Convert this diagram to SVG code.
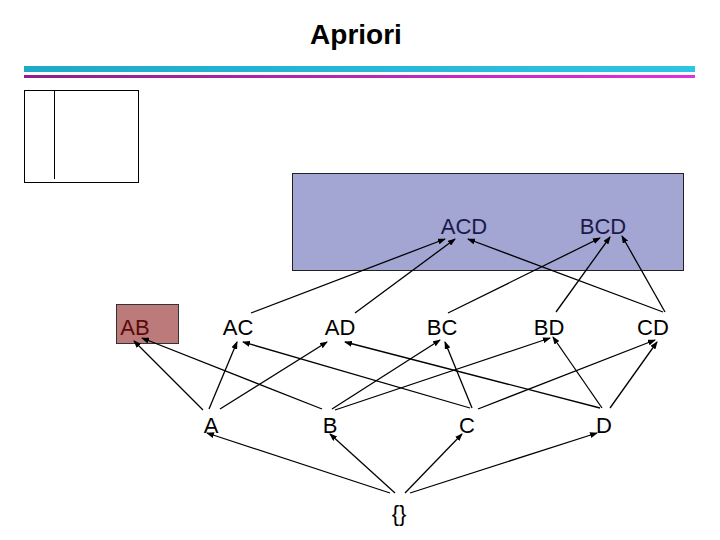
<svg xmlns="http://www.w3.org/2000/svg" width="720" height="540" viewBox="0 0 720 540">
<style>
text{font-family:"Liberation Sans",Arial,sans-serif;font-size:22px;text-anchor:middle}
.c line{stroke:#000;stroke-width:1.3;marker-end:url(#ah)}
</style>
<defs><marker id="ah" markerWidth="8" markerHeight="6" refX="7" refY="3" orient="auto" markerUnits="userSpaceOnUse"><path d="M0,0L8,3L0,6z" fill="#000"/></marker>
<linearGradient id="g1" x1="0" x2="1"><stop offset="0" stop-color="#1fa9c9"/><stop offset="1" stop-color="#2fc4e4"/></linearGradient>
<linearGradient id="g2" x1="0" x2="1"><stop offset="0" stop-color="#8e1e8e"/><stop offset="1" stop-color="#e030e0"/></linearGradient></defs>
<rect width="720" height="540" fill="#fff"/>
<text x="356" y="44" style="font-size:28px;font-weight:bold">Apriori</text>
<rect x="24" y="66" width="671" height="6" fill="url(#g1)"/>
<rect x="24" y="75" width="671" height="3" fill="url(#g2)"/>
<rect x="24.5" y="90.5" width="114" height="92" fill="none" stroke="#000"/>
<line x1="54.5" y1="90" x2="54.5" y2="179" stroke="#000"/>
<g id="box"><rect x="292.5" y="173.5" width="391" height="97" fill="#a3a5d3" stroke="#222"/></g>
<g id="ACD"><text x="464" y="234" fill="#1a1a4a">ACD</text></g>
<g id="BCD"><text x="603" y="234" fill="#1a1a4a">BCD</text></g>
<g id="AB"><rect x="116.5" y="304.5" width="62" height="39" fill="#bc7a7a" stroke="#333"/><text x="135" y="335" fill="#5a0a0a">AB</text></g>
<g id="AC"><text x="238" y="335">AC</text></g>
<g id="AD"><text x="340" y="335">AD</text></g>
<g id="BC"><text x="442" y="335">BC</text></g>
<g id="BD"><text x="549" y="335">BD</text></g>
<g id="CD"><text x="653" y="335">CD</text></g>
<g id="A"><text x="211" y="433">A</text></g>
<g id="B"><text x="330" y="433">B</text></g>
<g id="C"><text x="467" y="433">C</text></g>
<g id="D"><text x="604" y="433">D</text></g>
<g id="empty"><text x="399" y="521">{}</text></g>
<g class="c" id="connectors">
<line x1="251" y1="313" x2="445" y2="239"/>
<line x1="355" y1="313" x2="455" y2="239"/>
<line x1="448" y1="313" x2="600" y2="238"/>
<line x1="556" y1="312" x2="610" y2="237"/>
<line x1="663" y1="312" x2="468" y2="239"/>
<line x1="665" y1="312" x2="622" y2="236"/>
<line x1="203" y1="410" x2="134" y2="341"/>
<line x1="209" y1="409" x2="237" y2="342"/>
<line x1="220" y1="409" x2="327" y2="342"/>
<line x1="322" y1="409" x2="142" y2="338"/>
<line x1="332" y1="409" x2="440" y2="340"/>
<line x1="335" y1="410" x2="550" y2="338"/>
<line x1="470" y1="408" x2="243" y2="342"/>
<line x1="472" y1="408" x2="445" y2="342"/>
<line x1="478" y1="409" x2="655" y2="340"/>
<line x1="600" y1="408" x2="345" y2="342"/>
<line x1="602" y1="408" x2="553" y2="337"/>
<line x1="610" y1="408" x2="657" y2="342"/>
<line x1="390" y1="493" x2="207" y2="433"/>
<line x1="395" y1="493" x2="330" y2="434"/>
<line x1="405" y1="493" x2="462" y2="434"/>
<line x1="410" y1="493" x2="597" y2="433"/>
</g>
</svg>
